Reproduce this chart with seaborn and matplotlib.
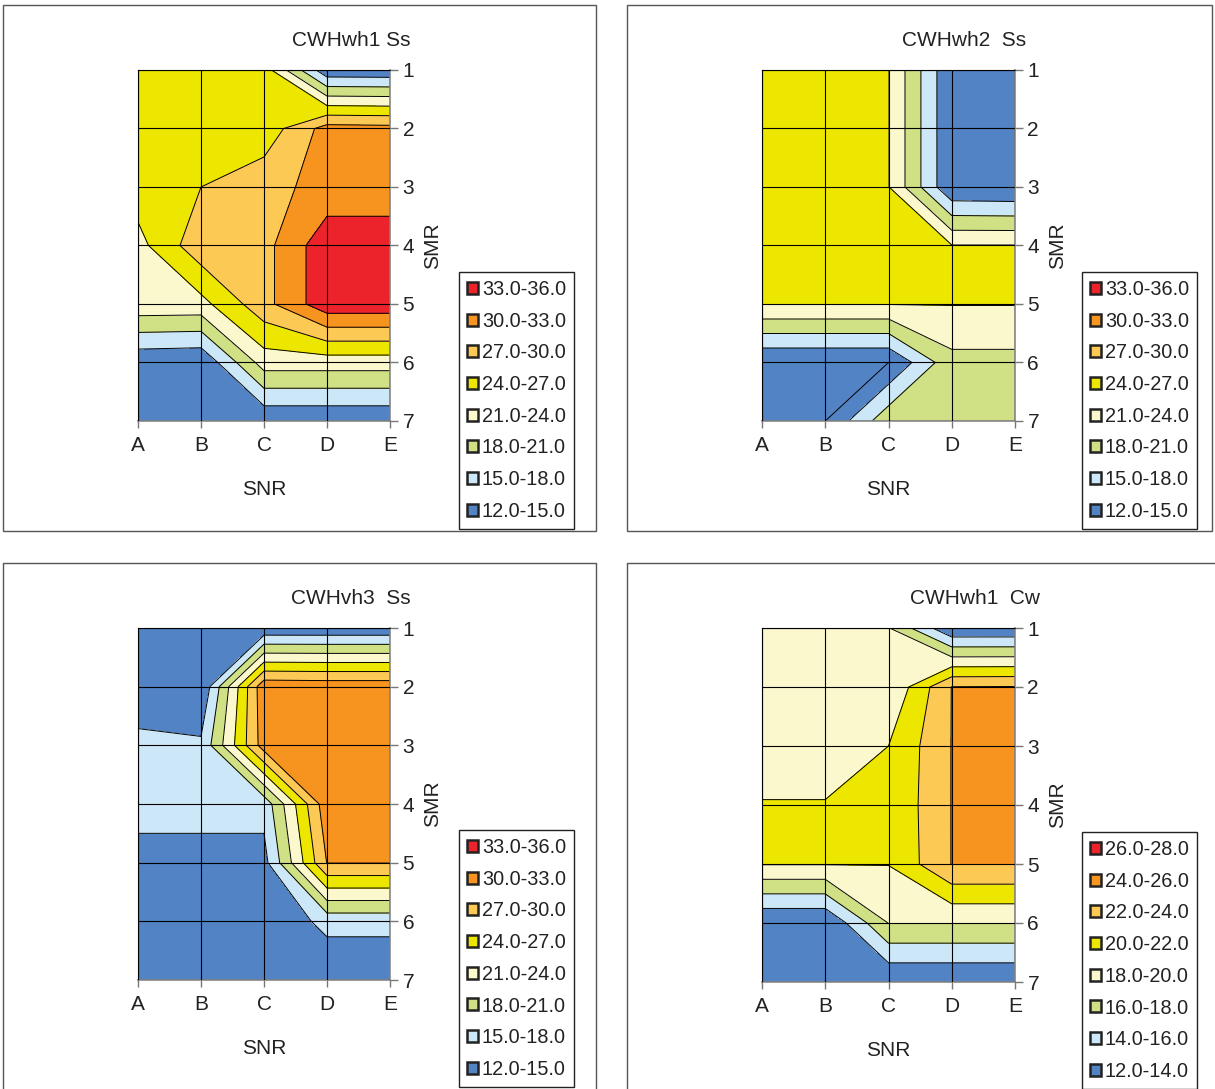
import numpy as np
import matplotlib
matplotlib.use("Agg")
import matplotlib.pyplot as plt
from matplotlib.patches import Rectangle, Patch
import seaborn as sns

# Grid categories
snr_labels = ["A", "B", "C", "D", "E"]
smr_labels = ["1", "2", "3", "4", "5", "6", "7"]

# Surface values: rows = SMR 1..7, columns = SNR A..E
wh1_ss = [
    [25.5, 25.5, 25.5, 12.8, 12.7],
    [25.5, 25.5, 25.1, 31.2, 31.0],
    [25.5, 27.0, 29.0, 31.0, 31.0],
    [23.0, 29.0, 29.0, 35.0, 35.0],
    [23.1, 23.0, 29.0, 35.0, 35.0],
    [12.6, 12.3, 22.4, 22.4, 22.4],
    [12.5, 12.5, 12.4, 12.4, 12.4],
]
wh2_ss = [
    [25.0, 25.0, 24.1, 12.2, 12.0],
    [25.0, 25.0, 24.1, 12.2, 12.0],
    [25.0, 25.0, 24.1, 12.2, 12.0],
    [25.0, 25.0, 25.0, 24.1, 24.1],
    [24.1, 24.1, 24.1, 24.1, 24.1],
    [12.0, 12.0, 12.0, 20.1, 20.1],
    [12.0, 12.0, 20.1, 20.0, 20.0],
]
vh3_ss = [
    [12.5, 12.6, 12.6, 12.6, 12.6],
    [12.5, 12.2, 32.2, 32.0, 32.0],
    [16.0, 15.5, 31.5, 32.0, 32.0],
    [16.0, 16.0, 16.0, 32.0, 32.0],
    [14.0, 14.0, 14.0, 30.1, 30.1],
    [12.5, 12.5, 12.0, 16.0, 16.0],
    [12.5, 12.5, 12.5, 12.2, 12.2],
]
wh1_cw = [
    [19.0, 19.0, 18.1, 12.2, 12.2],
    [19.0, 19.0, 18.1, 24.05, 24.1],
    [19.0, 19.0, 20.0, 24.05, 25.0],
    [20.1, 20.1, 20.2, 24.05, 25.0],
    [20.1, 20.1, 20.05, 24.05, 24.05],
    [12.0, 12.0, 18.05, 18.05, 18.05],
    [12.0, 12.0, 12.05, 12.05, 12.05],
]

levels_ss = [12, 15, 18, 21, 24, 27, 30, 33, 36]
levels_cw = [12, 14, 16, 18, 20, 22, 24, 26, 28]

titles = ["CWHwh1 Ss", "CWHwh2  Ss", "CWHvh3  Ss", "CWHwh1  Cw"]

band_colors = sns.color_palette([
    "#5283C4",  # lowest band
    "#CCE7F8",
    "#CFE085",
    "#FCF8CE",
    "#EDE700",
    "#FDC955",
    "#F7941F",
    "#EC232A",  # highest band
])

W, H = 1215, 1089
sns.set_theme(style="white")
plt.rcParams["font.family"] = ["Liberation Sans", "DejaVu Sans"]

fig = plt.figure(figsize=(W / 100, H / 100), dpi=100)
fig.patch.set_facecolor("white")


def fx(px):
    return px / W


def fy(py):
    return 1 - py / H


panels = [
    dict(z=wh1_ss, lv=levels_ss, title=titles[0], box=(3, 5, 596, 531),
         ax=(138, 70, 390, 421), leg=(459, 272), tc=(351, 41)),
    dict(z=wh2_ss, lv=levels_ss, title=titles[1], box=(627, 5, 1212, 531),
         ax=(762, 70, 1015, 421), leg=(1082, 272), tc=(964, 41)),
    dict(z=vh3_ss, lv=levels_ss, title=titles[2], box=(3, 563, 596, 1100),
         ax=(138, 628, 390, 980), leg=(459, 830), tc=(351, 599)),
    dict(z=wh1_cw, lv=levels_cw, title=titles[3], box=(627, 563, 1225, 1100),
         ax=(762, 628, 1015, 982), leg=(1082, 832), tc=(975, 599)),
]

fs = 15

for p in panels:
    # chart frame
    bx0, by0, bx1, by1 = p["box"]
    fig.patches.append(Rectangle((fx(bx0), fy(by1)), fx(bx1 - bx0), (by1 - by0) / H,
                                 transform=fig.transFigure, fill=False,
                                 edgecolor="#555555", linewidth=1.0, zorder=0))

    x0, y0, x1, y1 = p["ax"]
    ax = fig.add_axes([fx(x0), fy(y1), fx(x1 - x0), (y1 - y0) / H])
    Z = np.array(p["z"])
    X = np.arange(len(snr_labels))
    Y = np.arange(len(smr_labels))
    ax.contourf(X, Y, Z, levels=p["lv"], colors=band_colors)
    ax.contour(X, Y, Z, levels=p["lv"], colors="black", linewidths=0.7)

    ax.set_xlim(0, 4)
    ax.set_ylim(6, 0)
    ax.set_xticks(X)
    ax.set_xticklabels(snr_labels, fontsize=fs, color="#222222")
    ax.set_yticks(Y)
    ax.set_yticklabels(smr_labels, fontsize=fs, color="#222222")
    ax.yaxis.tick_right()
    ax.tick_params(axis="x", direction="out", length=5, width=1, color="#777777", pad=6,
                   bottom=True)
    ax.tick_params(axis="y", direction="out", length=6, width=1, color="#777777", pad=3,
                   right=True, left=False, labelright=True, labelleft=False)
    ax.grid(True, color="black", linewidth=0.8)
    ax.set_axisbelow(False)
    for side in ("top", "left"):
        ax.spines[side].set_color("black")
        ax.spines[side].set_linewidth(0.8)
    for side in ("bottom", "right"):
        ax.spines[side].set_color("#888888")
        ax.spines[side].set_linewidth(1.2)

    ax.set_xlabel("SNR", fontsize=fs, color="#222222")
    ax.xaxis.set_label_coords(0.5, -59 / (y1 - y0))
    ax.yaxis.set_label_position("right")
    ax.set_ylabel("SMR", fontsize=fs, color="#222222")
    ax.yaxis.set_label_coords((x1 + 33 - x0) / (x1 - x0), 0.5)

    tx, ty = p["tc"]
    fig.text(fx(tx), fy(ty), p["title"], fontsize=15, color="#222222",
             ha="center", va="center")

    lv = p["lv"]
    handles = []
    for i in range(len(lv) - 1, 0, -1):
        handles.append(Patch(facecolor=band_colors[i - 1], edgecolor="#222222",
                             linewidth=1.8, label=f"{lv[i-1]:.1f}-{lv[i]:.1f}"))
    lx, ly = p["leg"]
    fig.legend(handles=handles, loc="upper left", bbox_to_anchor=(fx(lx), fy(ly)),
               bbox_transform=fig.transFigure, borderaxespad=0, fontsize=14.3,
               handlelength=0.55, handleheight=0.55, handletextpad=0.2,
               labelspacing=0.64, borderpad=0.4, frameon=True, fancybox=False,
               edgecolor="#222222", framealpha=1, labelcolor="#222222")

fig.savefig("out.png", dpi=100, facecolor="white")
